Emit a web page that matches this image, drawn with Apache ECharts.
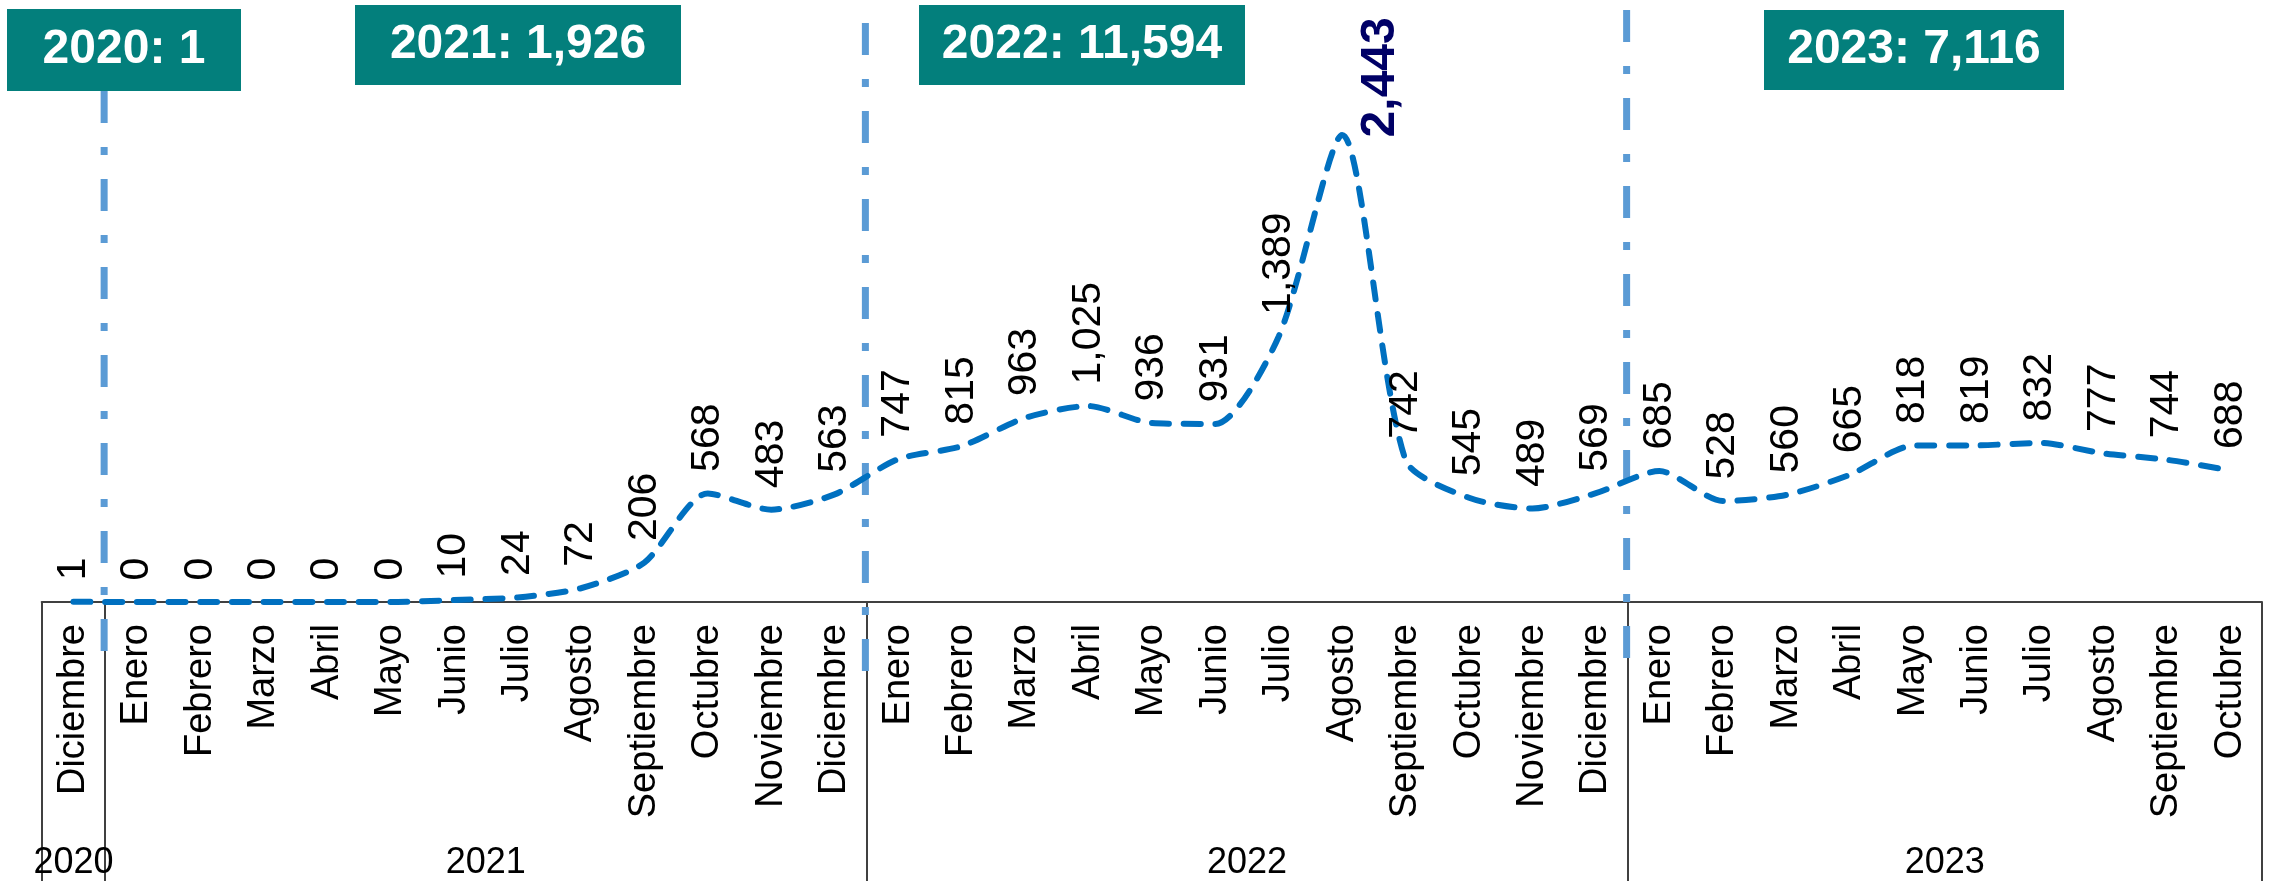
<!DOCTYPE html>
<html>
<head>
<meta charset="utf-8">
<script src="https://cdn.jsdelivr.net/npm/echarts@6/dist/echarts.min.js"></script>
<style>
  html, body { margin: 0; padding: 0; background: #ffffff; }
  #chart { width: 2278px; height: 881px; }
</style>
</head>
<body>
<div id="chart"></div>
<script>
// ---------- data ----------
const yearLabels = ['2020', '2021', '2022', '2023'];
const yearMonthCounts = [1, 12, 12, 10];
const months = [
  'Diciembre',
  'Enero', 'Febrero', 'Marzo', 'Abril', 'Mayo', 'Junio', 'Julio', 'Agosto', 'Septiembre', 'Octubre', 'Noviembre', 'Diciembre',
  'Enero', 'Febrero', 'Marzo', 'Abril', 'Mayo', 'Junio', 'Julio', 'Agosto', 'Septiembre', 'Octubre', 'Noviembre', 'Diciembre',
  'Enero', 'Febrero', 'Marzo', 'Abril', 'Mayo', 'Junio', 'Julio', 'Agosto', 'Septiembre', 'Octubre'
];
const values = [
  1,
  0, 0, 0, 0, 0, 10, 24, 72, 206, 568, 483, 563,
  747, 815, 963, 1025, 936, 931, 1389, 2443, 742, 545, 489, 569,
  685, 528, 560, 665, 818, 819, 832, 777, 744, 688
];

// ---------- derived from data ----------
const yearStarts = [];
let acc = 0;
yearMonthCounts.forEach(c => { yearStarts.push(acc); acc += c; });
const totalCats = acc;
const yearBounds = yearStarts.concat([totalCats]);
const yearCenters = yearStarts.map((s, i) => s + yearMonthCounts[i] / 2);
const yearTotals = yearStarts.map((s, i) => values.slice(s, s + yearMonthCounts[i]).reduce((a, b) => a + b, 0));
const dividerIdx = yearStarts.slice(1);
let peakIdx = 0;
values.forEach((v, i) => { if (v > values[peakIdx]) peakIdx = i; });

const fmt = v => Number(v).toLocaleString('en-US');
const FONT = '"Liberation Sans", Arial, Helvetica, sans-serif';

// ---------- styling / layout (pixels) ----------
const dividerExtents = [[91, 651], [23, 671], [10, 658]];
const boxes = [
  { x: 7, y: 9, w: 234, h: 82 },
  { x: 355, y: 5, w: 326, h: 80 },
  { x: 919, y: 5, w: 326, h: 80 },
  { x: 1764, y: 10, w: 300, h: 80 }
];

const seriesData = values.map((v, i) => i === peakIdx ? {
  value: v,
  label: { fontSize: 48, fontWeight: 'bold', color: '#000066' }
} : v);

const graphics = [];
boxes.forEach((b, i) => {
  graphics.push({
    type: 'rect', left: b.x, top: b.y, z: 100,
    shape: { width: b.w, height: b.h },
    style: { fill: '#037F7C' }
  });
  graphics.push({
    type: 'text', z: 101,
    x: b.x + b.w / 2, y: b.y + b.h / 2,
    style: {
      text: yearLabels[i] + ': ' + fmt(yearTotals[i]),
      fill: '#ffffff', font: 'bold 48px ' + FONT,
      textAlign: 'center', textVerticalAlign: 'middle'
    }
  });
});

const chart = echarts.init(document.getElementById('chart'), null, { renderer: 'canvas' });
chart.setOption({
  animation: false,
  backgroundColor: '#ffffff',
  textStyle: { fontFamily: FONT },
  grid: { left: 41.7, right: 16, top: 28.4, bottom: 278.3, containLabel: false },
  xAxis: [
    {
      type: 'category',
      data: months,
      boundaryGap: true,
      axisLine: { show: true, lineStyle: { color: '#404040', width: 2 } },
      axisTick: { show: false },
      splitLine: { show: false },
      axisLabel: {
        interval: 0, rotate: 90, fontSize: 38, color: '#000000',
        margin: 22, fontFamily: FONT
      }
    },
    {
      type: 'value',
      min: 0, max: totalCats,
      position: 'bottom',
      axisLine: { show: false },
      splitLine: { show: false },
      axisTick: {
        show: true, customValues: yearBounds, length: 280,
        lineStyle: { color: '#404040', width: 2 }
      },
      axisLabel: {
        show: true, customValues: yearCenters,
        formatter: v => {
          const k = yearCenters.findIndex(c => Math.abs(c - v) < 1e-6);
          return k >= 0 ? yearLabels[k] : '';
        },
        fontSize: 36, color: '#000000', margin: 243, fontFamily: FONT
      }
    }
  ],
  yAxis: {
    type: 'value', min: 0, max: 3000, show: false,
    splitLine: { show: false }
  },
  series: [
    {
      type: 'custom',
      xAxisIndex: 0, yAxisIndex: 0,
      silent: true, clip: false, z: 1,
      data: dividerIdx.map((idx, i) => [idx, i]),
      renderItem: function (params, api) {
        const half = api.size([1, 0])[0] / 2;
        const x = api.coord([api.value(0), 0])[0] - half - 1;
        const ext = dividerExtents[api.value(1)];
        return {
          type: 'line',
          shape: { x1: x, y1: ext[0], x2: x, y2: ext[1] },
          style: { stroke: '#5B9BD5', lineWidth: 7, lineDash: [32, 24, 8, 24], lineCap: 'butt' }
        };
      }
    },
    {
      type: 'line',
      xAxisIndex: 0, yAxisIndex: 0,
      z: 3,
      data: seriesData,
      smooth: 0.25,
      symbol: 'circle',
      symbolSize: 1,
      showSymbol: true,
      showAllSymbol: true,
      itemStyle: { color: 'rgba(0,0,0,0)', borderWidth: 0 },
      lineStyle: { color: '#0070C0', width: 6, type: [17, 14.7], cap: 'round' },
      label: {
        show: true, position: 'top', distance: 21, rotate: 90,
        align: 'left', verticalAlign: 'middle',
        fontSize: 41, color: '#000000', fontFamily: FONT,
        formatter: p => fmt(p.value)
      },
      labelLayout: function (params) {
        if (params.dataIndex === peakIdx) {
          return { dx: -24, dy: 39 };
        }
        return {};
      }
    }
  ],
  graphic: graphics
});
</script>
</body>
</html>
